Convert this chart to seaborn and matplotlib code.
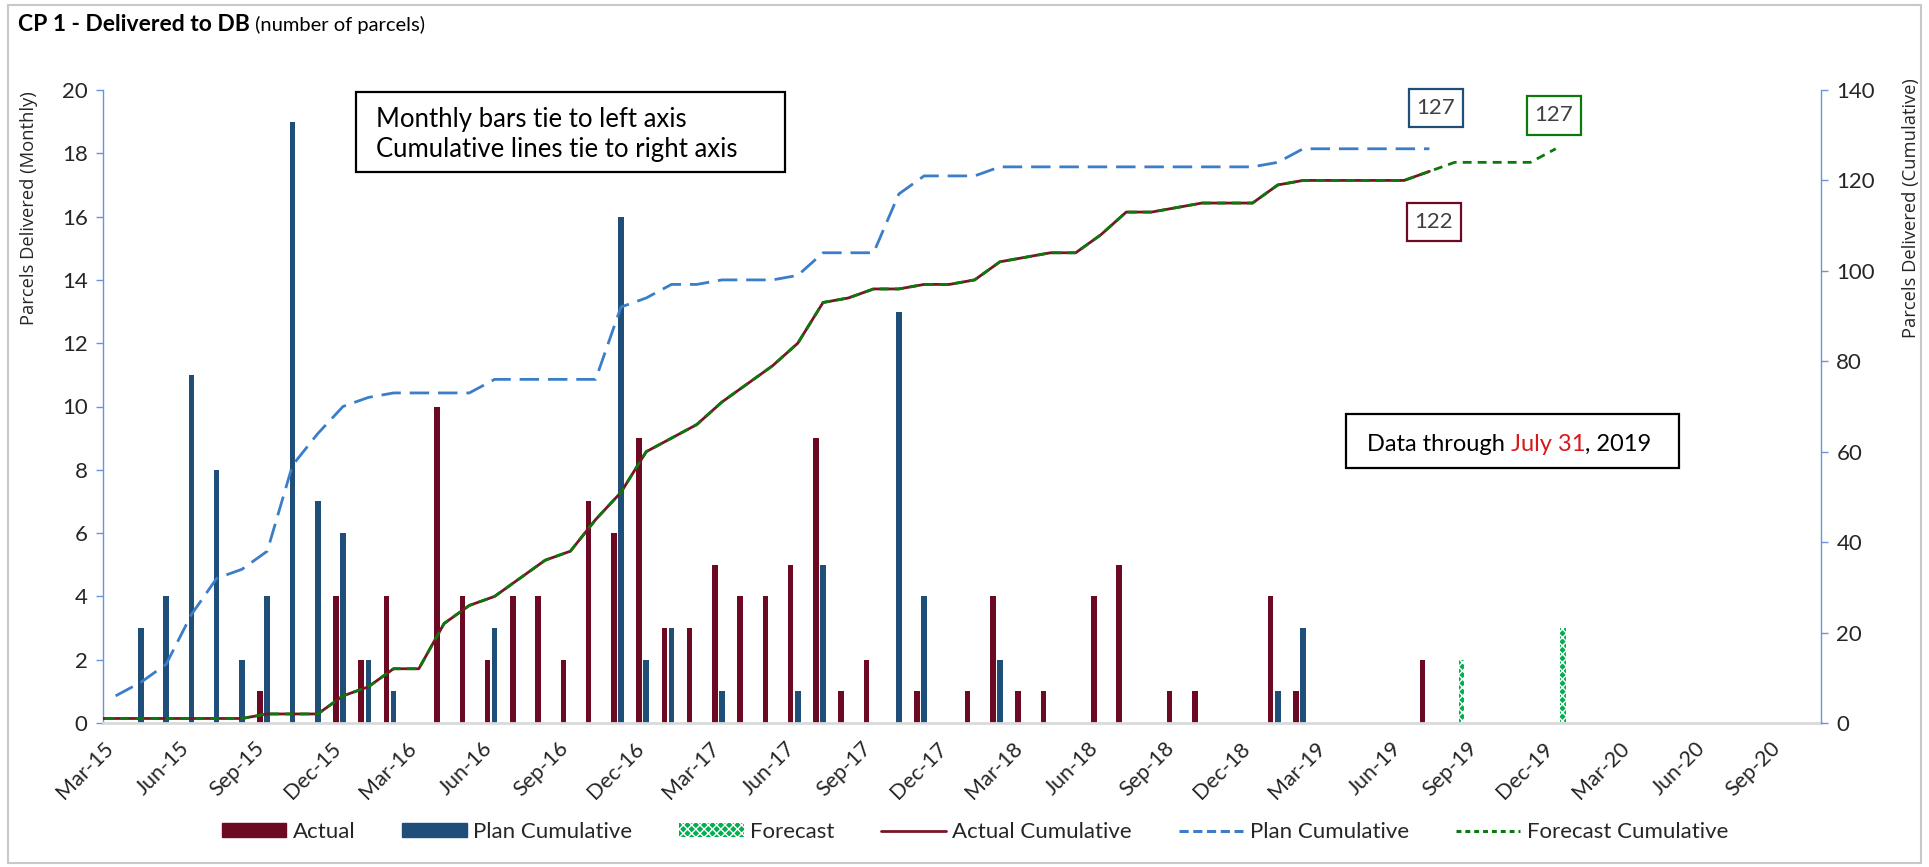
import numpy as np
import pandas as pd
import matplotlib
matplotlib.use("Agg")
import matplotlib.pyplot as plt
import seaborn as sns
from matplotlib.patches import Rectangle, Patch
from matplotlib.lines import Line2D

# ---------------- data ----------------
tick_labels = ['Mar-15', 'Jun-15', 'Sep-15', 'Dec-15', 'Mar-16', 'Jun-16', 'Sep-16', 'Dec-16',
               'Mar-17', 'Jun-17', 'Sep-17', 'Dec-17', 'Mar-18', 'Jun-18', 'Sep-18', 'Dec-18',
               'Mar-19', 'Jun-19', 'Sep-19', 'Dec-19', 'Mar-20', 'Jun-20', 'Sep-20']

# monthly values, Mar-15 ... Jul-19 (53 months)
actual_monthly = [0, 0, 0, 0, 0, 0, 1, 0, 0, 4, 2, 4, 0, 10, 4, 2, 4, 4, 2, 7,
                  6, 9, 3, 3, 5, 4, 4, 5, 9, 1, 2, 0, 1, 0, 1, 4, 1, 1, 0, 4,
                  5, 0, 1, 1, 0, 0, 4, 1, 0, 0, 0, 0, 2]
plan_monthly = [0, 3, 4, 11, 8, 2, 4, 19, 7, 6, 2, 1, 0, 0, 0, 3, 0, 0, 0, 0,
                16, 2, 3, 0, 1, 0, 0, 1, 5, 0, 0, 13, 4, 0, 0, 2, 0, 0, 0, 0,
                0, 0, 0, 0, 0, 0, 1, 3, 0, 0, 0, 0, 0]
# forecast monthly, Aug-19 ... Dec-19
forecast_monthly = [2, 0, 0, 0, 3]

actual_prior = 1      # delivered before Mar-15
plan_prior = 6

end_labels = ['127', '127', '122']

# ---------------- styling ----------------
RED = '#6B0A22'
BLUE = '#1F4E79'
GREEN = '#00B050'
PLAN_LINE = '#3A7DC9'
FC_LINE = '#0B7A0B'
ACT_LINE = '#7A1328'
AX_BLUE = '#6A94DA'
TXT = '#262626'

sns.set_theme(style='white')
plt.rcParams['font.family'] = ['Lato', 'DejaVu Sans']
plt.rcParams['hatch.linewidth'] = 1.0

W, H = 1929, 867
fig = plt.figure(figsize=(W / 100, H / 100), dpi=100)
ax = fig.add_axes([103 / W, 1 - 723 / H, (1821 - 103) / W, (723 - 90) / H])
ax.set_facecolor('white')

n_act = len(actual_monthly)
n_all = n_act + len(forecast_monthly)
rows = []
for i in range(n_all):
    a = actual_monthly[i] if i < n_act else 0
    p = plan_monthly[i] if i < n_act else 0
    f = forecast_monthly[i - n_act] if i >= n_act else 0
    rows.append((i + 0.5, a, 'Actual'))
    rows.append((i + 0.5, p, 'Plan'))
    rows.append((i + 0.5, f, 'Forecast'))
df = pd.DataFrame(rows, columns=['pos', 'value', 'series'])

sns.barplot(data=df, x='pos', y='value', hue='series',
            hue_order=['Actual', 'Plan', 'Forecast'],
            palette=[RED, BLUE, GREEN], native_scale=True,
            width=0.84, gap=0.22, errorbar=None, legend=False,
            saturation=1, ax=ax, linewidth=0)
for bar in ax.containers[2]:
    bar.set_facecolor(GREEN)
    bar.set_edgecolor('white')
    bar.set_hatch('xxxx')
    bar.set_linewidth(0)

ax.set_xlim(0, 68)
ax.set_ylim(0, 20)
ax.set_yticks(np.arange(0, 21, 2))
ax.set_xticks(np.arange(0, 3 * len(tick_labels), 3))
ax.set_xticklabels(tick_labels, rotation=45, ha='right', rotation_mode='anchor')
ax.set_xlabel('')
ax.set_ylabel('Parcels Delivered (Monthly)', fontsize=13.2, color=TXT,
              family=['Open Sans', 'DejaVu Sans'])
ax.yaxis.set_label_coords((38 - 103) / 1718, (723 - 208) / 633)
ax.tick_params(axis='x', colors='#D9D9D9', length=7, width=2, direction='out',
               labelcolor=TXT, labelsize=15.5, pad=4)
ax.tick_params(axis='y', colors=AX_BLUE, length=5, width=1, direction='out',
               labelcolor=TXT, labelsize=16, pad=6)
for s in ['top', 'right']:
    ax.spines[s].set_visible(False)
ax.spines['left'].set_color(AX_BLUE)
ax.spines['left'].set_linewidth(1)
ax.spines['bottom'].set_color('#D9D9D9')
ax.spines['bottom'].set_linewidth(2)

# ---------------- cumulative lines ----------------
ax2 = ax.twinx()
act_cum = actual_prior + np.cumsum(actual_monthly)
plan_cum = plan_prior + np.cumsum(plan_monthly)
fc_cum = np.concatenate([act_cum, act_cum[-1] + np.cumsum(forecast_monthly)])

x_act = np.concatenate([[-0.5], np.arange(n_act) + 0.5])
y_act = np.concatenate([[actual_prior], act_cum])
x_fc = np.concatenate([[-0.5], np.arange(n_all) + 0.5])
y_fc = np.concatenate([[actual_prior], fc_cum])
x_plan = np.arange(n_act) + 0.5

sns.lineplot(x=x_plan, y=plan_cum, ax=ax2, color=PLAN_LINE, linewidth=2.0, sort=False)
ax2.lines[-1].set_dashes([7, 3.2])
sns.lineplot(x=x_act, y=y_act, ax=ax2, color=ACT_LINE, linewidth=2.0, sort=False)
sns.lineplot(x=x_fc, y=y_fc, ax=ax2, color=FC_LINE, linewidth=2.0, sort=False)
ax2.lines[-1].set_dashes([3.2, 2.2])
for ln in ax2.lines:
    ln.set_clip_on(True)

ax2.set_xlim(0, 68)
ax2.set_ylim(0, 140)
ax2.set_yticks(np.arange(0, 141, 20))
ax2.set_ylabel('Parcels Delivered (Cumulative)', fontsize=13.2, color=TXT,
               family=['Open Sans', 'DejaVu Sans'])
ax2.yaxis.set_label_coords((1902 - 103) / 1718, (723 - 208) / 633)
ax2.tick_params(axis='y', colors=AX_BLUE, length=5, width=1, direction='out',
                labelcolor=TXT, labelsize=16, pad=6)
for s in ['top', 'left', 'bottom']:
    ax2.spines[s].set_visible(False)
ax2.spines['right'].set_color(AX_BLUE)
ax2.spines['right'].set_linewidth(1)
ax2.grid(False)
ax.grid(False)


# ---------------- annotations (pixel helpers) ----------------
def fx(px):
    return px / W


def fy(py):
    return 1 - py / H


def box(x0, y0, x1, y1, color, lw):
    fig.patches.append(Rectangle((fx(x0), fy(y1)), fx(x1) - fx(x0), fy(y0) - fy(y1),
                                 transform=fig.transFigure, fill=False,
                                 edgecolor=color, linewidth=lw, zorder=5))


def chained(x_px, y_px, parts, size):
    """Draw consecutive text pieces on one baseline."""
    fig.canvas.draw()
    r = fig.canvas.get_renderer()
    x = fx(x_px)
    for txt, col, wt, fs in parts:
        t = fig.text(x, fy(y_px), txt, fontsize=fs if fs else size, color=col,
                     fontweight=wt, va='baseline', ha='left')
        bb = t.get_window_extent(renderer=r)
        x += bb.width / W


# outer frame
fig.patches.append(Rectangle((fx(8), fy(863)), fx(1921) - fx(8), fy(5) - fy(863),
                             transform=fig.transFigure, fill=False,
                             edgecolor='#C8C8C8', linewidth=1.5))

# title
chained(18, 31, [('CP 1 - Delivered to DB', 'black', 'bold', 16.5),
                 (' (number of parcels)', 'black', 'normal', 14.5)], 16)

# note box 1
box(356, 92, 785, 172, 'black', 1.6)
fig.text(fx(376), fy(119), 'Monthly bars tie to left axis', fontsize=18.5,
         color='black', va='center', ha='left')
fig.text(fx(376), fy(150), 'Cumulative lines tie to right axis', fontsize=18.5,
         color='black', va='center', ha='left')

# note box 2
box(1346, 414, 1679, 468, 'black', 1.6)
chained(1367, 451, [('Data through ', 'black', 'normal', None),
                    ('July 31', '#D7191C', 'normal', None),
                    (', 2019', 'black', 'normal', None)], 17)

# end value boxes
for (x0, y0, x1, y1), col, lab in zip(
        [(1409, 89, 1463, 127), (1527, 96, 1581, 135), (1407, 203, 1461, 241)],
        [BLUE, FC_LINE, RED], end_labels):
    box(x0, y0, x1, y1, col, 1.6)
    fig.text(fx((x0 + x1) / 2), fy((y0 + y1) / 2), lab, fontsize=16, color='#404040',
             va='center', ha='center')

# legend
handles = [
    Patch(facecolor=RED, edgecolor=RED),
    Patch(facecolor=BLUE, edgecolor=BLUE),
    Patch(facecolor=GREEN, edgecolor='white', hatch='xxxx', linewidth=0),
    Line2D([0], [0], color=ACT_LINE, linewidth=2),
    Line2D([0], [0], color=PLAN_LINE, linewidth=2.2, dashes=[3, 1.5]),
    Line2D([0], [0], color=FC_LINE, linewidth=2.2, dashes=[1.6, 1.3]),
]
labels = ['Actual', 'Plan Cumulative', 'Forecast', 'Actual Cumulative',
          'Plan Cumulative', 'Forecast Cumulative']
fig.legend(handles, labels, loc='center', bbox_to_anchor=(fx(975), fy(832)),
           ncol=6, frameon=False, fontsize=16, handlelength=2.9, handleheight=0.6,
           handletextpad=0.3, columnspacing=2.1, labelcolor=TXT)

fig.savefig('out.png', dpi=100, facecolor='white')
